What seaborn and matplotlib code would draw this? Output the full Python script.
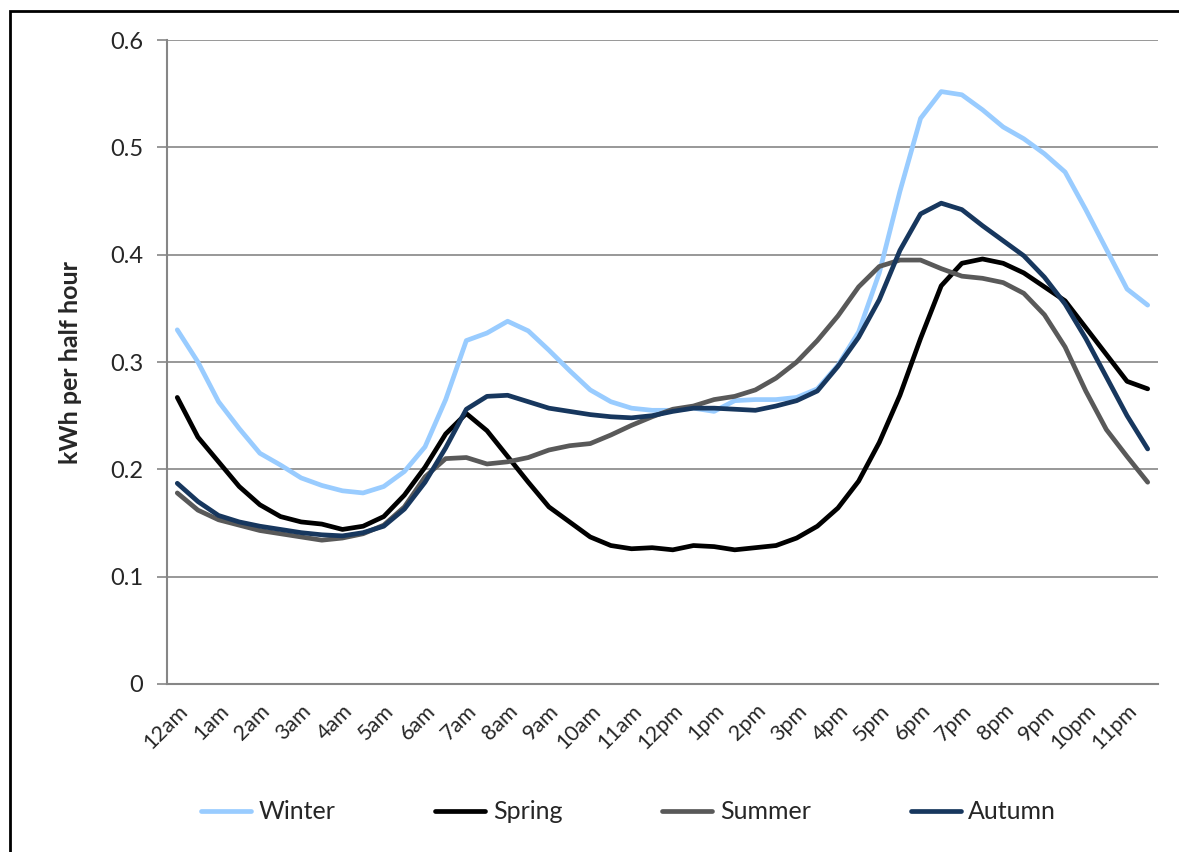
import numpy as np
import pandas as pd
import seaborn as sns
import matplotlib.pyplot as plt
from matplotlib.patches import Rectangle

# Half-hourly slots, labelled on the hour
hour_labels = ['12am', '1am', '2am', '3am', '4am', '5am', '6am', '7am', '8am', '9am',
               '10am', '11am', '12pm', '1pm', '2pm', '3pm', '4pm', '5pm', '6pm', '7pm',
               '8pm', '9pm', '10pm', '11pm']
slots = list(range(48))

winter = [0.330, 0.300, 0.263, 0.238, 0.215, 0.204, 0.192, 0.185, 0.180, 0.178,
          0.184, 0.198, 0.221, 0.265, 0.320, 0.327, 0.338, 0.329, 0.311, 0.292,
          0.274, 0.263, 0.257, 0.255, 0.255, 0.257, 0.254, 0.264, 0.265, 0.265,
          0.267, 0.275, 0.297, 0.328, 0.383, 0.459, 0.527, 0.552, 0.549, 0.535,
          0.519, 0.508, 0.494, 0.477, 0.442, 0.405, 0.368, 0.353]
spring = [0.267, 0.230, 0.207, 0.184, 0.167, 0.156, 0.151, 0.149, 0.144, 0.147,
          0.156, 0.176, 0.202, 0.233, 0.252, 0.236, 0.212, 0.188, 0.165, 0.151,
          0.137, 0.129, 0.126, 0.127, 0.125, 0.129, 0.128, 0.125, 0.127, 0.129,
          0.136, 0.147, 0.164, 0.189, 0.225, 0.269, 0.322, 0.371, 0.392, 0.396,
          0.392, 0.383, 0.370, 0.357, 0.332, 0.307, 0.282, 0.275]
summer = [0.178, 0.162, 0.153, 0.148, 0.143, 0.140, 0.137, 0.134, 0.136, 0.140,
          0.148, 0.165, 0.193, 0.210, 0.211, 0.205, 0.207, 0.211, 0.218, 0.222,
          0.224, 0.232, 0.241, 0.249, 0.256, 0.259, 0.265, 0.268, 0.274, 0.285,
          0.300, 0.320, 0.343, 0.370, 0.389, 0.395, 0.395, 0.387, 0.380, 0.378,
          0.374, 0.364, 0.344, 0.314, 0.273, 0.237, 0.212, 0.188]
autumn = [0.187, 0.170, 0.157, 0.151, 0.147, 0.144, 0.141, 0.139, 0.138, 0.141,
          0.147, 0.163, 0.188, 0.220, 0.256, 0.268, 0.269, 0.263, 0.257, 0.254,
          0.251, 0.249, 0.248, 0.250, 0.254, 0.257, 0.257, 0.256, 0.255, 0.259,
          0.264, 0.273, 0.296, 0.323, 0.358, 0.404, 0.438, 0.448, 0.442, 0.427,
          0.413, 0.399, 0.379, 0.354, 0.322, 0.286, 0.250, 0.219]

seasons = ['Winter', 'Spring', 'Summer', 'Autumn']
colors = ['#99CCFF', '#000000', '#595959', '#17375E']

sns.set_theme(style='white')
plt.rcParams['font.family'] = ['Lato', 'DejaVu Sans']

df = pd.DataFrame({'slot': slots * 4,
                   'kwh': winter + spring + summer + autumn,
                   'season': np.repeat(seasons, 48)})

fig = plt.figure(figsize=(11.79, 8.52), dpi=100)
ax = fig.add_axes([0.1416, 0.1972, 0.8406, 0.7558])

sns.lineplot(data=df, x='slot', y='kwh', hue='season', hue_order=seasons,
             palette=colors, linewidth=3.4, ax=ax, legend=True)

ax.set_xlim(-0.5, 47.5)
ax.set_ylim(0, 0.6)
ax.set_yticks(np.arange(0, 0.61, 0.1))
ax.set_yticklabels(['0', '0.1', '0.2', '0.3', '0.4', '0.5', '0.6'], fontsize=17)
ax.set_xticks(range(0, 48, 2))
ax.set_xticklabels(hour_labels, rotation=45, ha='right', rotation_mode='anchor', fontsize=15.5)
ax.set_xticks(np.arange(-0.5, 48, 1), minor=True)
ax.tick_params(axis='x', which='major', length=0, pad=12)
ax.tick_params(axis='x', which='minor', length=7, width=1.2, color='#868686', direction='out')
ax.tick_params(axis='y', length=7, width=1.2, color='#868686', direction='out', pad=10, left=True)

ax.yaxis.grid(True, color='#868686', linewidth=1.2)
ax.xaxis.grid(False)
for s in ['top', 'right']:
    ax.spines[s].set_visible(False)
for s in ['left', 'bottom']:
    ax.spines[s].set_color('#868686')
    ax.spines[s].set_linewidth(1.5)

ax.set_xlabel('')
ax.set_ylabel('kWh per half hour', fontsize=18, fontweight='bold', labelpad=20)

handles, labels = ax.get_legend_handles_labels()
ax.get_legend().remove()
fig.legend(handles, labels, loc='center', bbox_to_anchor=(0.533, 0.047), ncol=4,
           frameon=False, fontsize=18, handlelength=2.0, handletextpad=0.3,
           columnspacing=4.0)

# chart area border (cropped at the right and bottom)
fig.patches.append(Rectangle((10 / 1179, -0.1), 1.2, 1 - 11 / 852 + 0.1,
                             transform=fig.transFigure, fill=False,
                             edgecolor='black', linewidth=2))

fig.savefig('out.png', dpi=100)
